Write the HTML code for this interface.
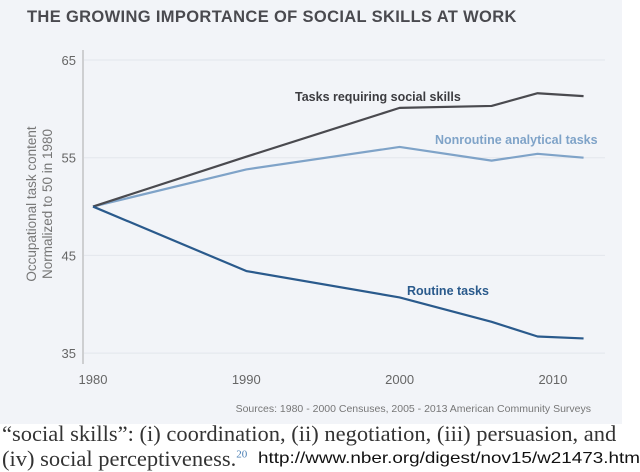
<!DOCTYPE html>
<html><head><meta charset="utf-8"><style>
body{margin:0;width:640px;height:472px;background:#fff;overflow:hidden;position:relative;font-family:"Liberation Sans",sans-serif}
#panel{position:absolute;left:0;top:0;width:622px;height:424px;background:#f2f4f8}
.t{position:absolute;white-space:nowrap}
</style></head><body>
<div id="panel"></div>
<div class="t" style="left:27px;top:8px;font-size:16.5px;font-weight:bold;color:#4a4a4f;letter-spacing:0.35px">THE GROWING IMPORTANCE OF SOCIAL SKILLS AT WORK</div>
<svg id="chart" width="640" height="424" style="position:absolute;left:0;top:0"></svg>
<div class="t" style="left:2px;top:421px;font-family:'Liberation Serif',serif;font-size:22.5px;color:#333">“social skills”: (i) coordination, (ii) negotiation, (iii) persuasion, and</div>
<div class="t" style="left:2px;top:446px;font-family:'Liberation Serif',serif;font-size:22.5px;color:#333">(iv) social perceptiveness.<sup style="font-size:11px;color:#4a7fb5">20</sup></div>
<div class="t" style="left:258px;top:450px;font-size:16px;color:#111;transform:scaleX(1.18);transform-origin:left top">http://www.nber.org/digest/nov15/w21473.html</div>
<script>
const years=[1980,1990,2000,2006,2009,2012];
const social=[50,55.1,60.1,60.3,61.6,61.3];
const analytical=[50,53.8,56.1,54.7,55.4,55.0];
const routine=[50,43.4,40.7,38.2,36.7,36.5];
const yTicks=[35,45,55,65];
const xTicks=[1980,1990,2000,2010];
const NS='http://www.w3.org/2000/svg';
const svg=document.getElementById('chart');
const x=v=>93+(v-1980)*15.33;
const y=v=>60+(65-v)*9.77;
function mk(t,a){const e=document.createElementNS(NS,t);for(const k in a)e.setAttribute(k,a[k]);svg.appendChild(e);return e;}
yTicks.forEach(v=>{
 const g=mk('line',{x1:84,x2:605,y1:y(v),y2:y(v),stroke:'#e3e6ec','stroke-width':1});
 
 
 const t=mk('text',{x:76,y:y(v)+5,'text-anchor':'end','font-size':13,fill:'#666','font-family':'Liberation Sans, sans-serif'});
 t.textContent=v;
 
 
});
const ax=mk('line',{x1:83,x2:83,y1:50,y2:364,stroke:'#aaa','stroke-width':1});


xTicks.forEach(v=>{
 const t=mk('text',{x:x(v),y:384,'text-anchor':'middle','font-size':13,fill:'#666','font-family':'Liberation Sans, sans-serif'});
 t.textContent=v;
 
 
});
[['Occupational task content',-204,36],['Normalized to 50 in 1980',-204,52]].forEach(([s,cx,cy],i)=>{
 const t=mk('text',{x:cx,y:cy,transform:'rotate(-90)','text-anchor':'middle','font-size':13.5,fill:'#777','font-family':'Liberation Sans, sans-serif'});
 t.textContent=s;
 
 
});
function line(arr,color,name){
 const p=mk('polyline',{points:arr.map((v,i)=>x(years[i])+','+y(v)).join(' '),fill:'none',stroke:color,'stroke-width':2.2,'stroke-linejoin':'round'});
 
 
}
line(analytical,'#7fa3c8','line-nonroutine-analytical');
line(social,'#4a4a4f','line-social-skills');
line(routine,'#2a5a8c','line-routine');
[['Tasks requiring social skills',295,101,'#3c3c40','label-social'],['Nonroutine analytical tasks',435,144,'#7fa3c8','label-analytical'],['Routine tasks',407,295,'#2a5a8c','label-routine']].forEach(([s,lx,ly,c,n])=>{
 const t=mk('text',{x:lx,y:ly,'font-size':12.5,'font-weight':'bold',fill:c,'font-family':'Liberation Sans, sans-serif'});
 t.textContent=s;
 
 
});
const src=mk('text',{x:591,y:412,'text-anchor':'end','font-size':10.5,fill:'#777','font-family':'Liberation Sans, sans-serif'});
src.textContent='Sources: 1980 - 2000 Censuses, 2005 - 2013 American Community Surveys';


</script>
</body></html>
